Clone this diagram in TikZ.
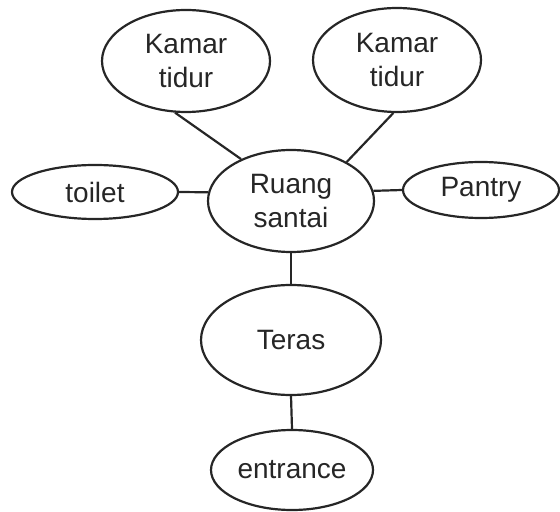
\documentclass[tikz,border=0pt]{standalone}
\usepackage{fontspec}
\setmainfont{Liberation Sans}
\usetikzlibrary{shapes.geometric}

\begin{document}
\begin{tikzpicture}[x=0.5pt,y=-0.5pt,
room/.style={ellipse,draw=black!85,line width=1.1pt,inner sep=0pt,align=center,text=black!85,font=\fontsize{14}{17}\selectfont},ln/.style={line width=1.1pt,draw=black!85}]
\useasboundingbox (0,0) rectangle (560,512);
\node[room,minimum width=84pt,minimum height=51pt] (kt1) at (186,61) {Kamar\\tidur};
\node[room,minimum width=84pt,minimum height=52pt] (kt2) at (397,60) {Kamar\\tidur};
\node[room,minimum width=83pt,minimum height=51pt] (rs) at (291,201) {Ruang\\santai};
\node[room,minimum width=83pt,minimum height=27pt] (toilet) at (95,192) {toilet};
\node[room,minimum width=78pt,minimum height=28pt] (pantry) at (481,190) {Pantry};
\node[room,minimum width=90pt,minimum height=55pt] (teras) at (291,340) {Teras};
\node[room,minimum width=81pt,minimum height=40pt] (entr) at (292,470) {entrance};
\draw[ln] (kt1.-102)--(rs.140); \draw[ln] (kt2.-94)--(rs.35); \draw[ln] (toilet.east)--(rs.174); \draw[ln] (pantry.west)--(rs.7); \draw[ln] (rs.south)--(teras.north); \draw[ln] (teras.south)--(entr.north);
\end{tikzpicture}
\end{document}
